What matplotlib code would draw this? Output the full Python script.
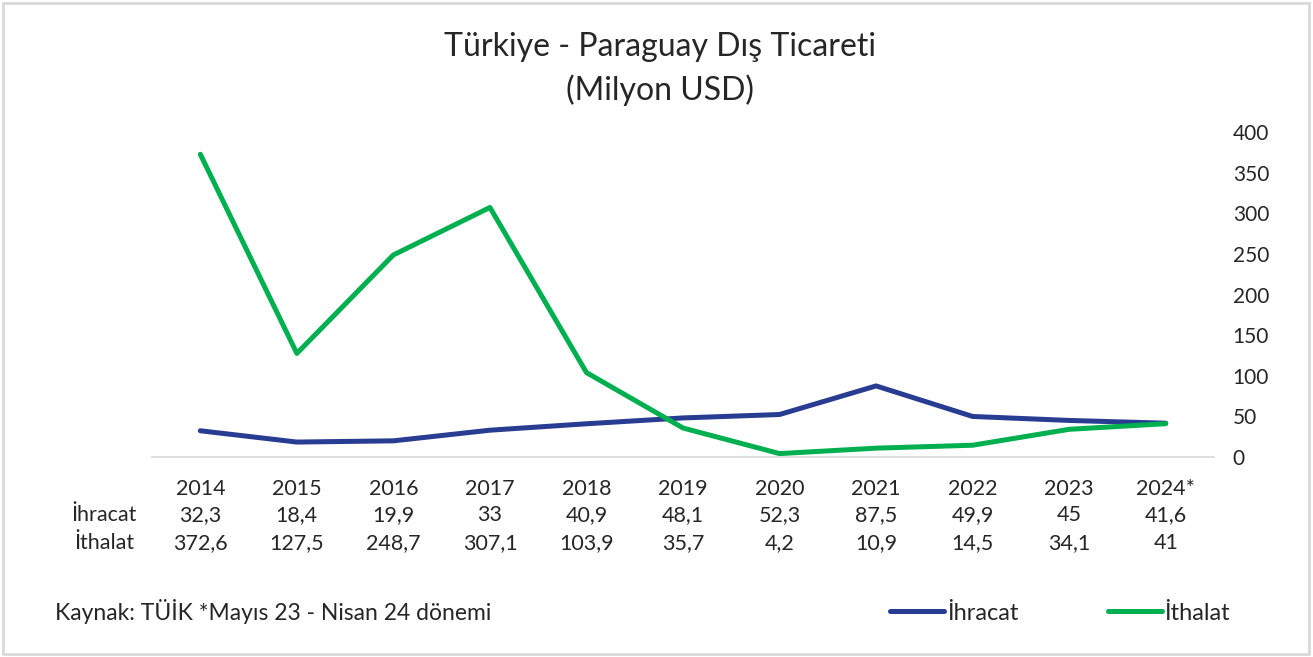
import matplotlib.pyplot as plt
from matplotlib.patches import Rectangle

# data
years = ["2014", "2015", "2016", "2017", "2018", "2019", "2020", "2021", "2022", "2023", "2024*"]
ihracat = [32.3, 18.4, 19.9, 33, 40.9, 48.1, 52.3, 87.5, 49.9, 45, 41.6]
ithalat = [372.6, 127.5, 248.7, 307.1, 103.9, 35.7, 4.2, 10.9, 14.5, 34.1, 41]

blue = "#283C92"
green = "#00B050"
txt = "#262626"

plt.rcParams['font.family'] = ['Lato', 'DejaVu Sans']

fig = plt.figure(figsize=(13.13, 6.57), dpi=100)
fig.patches.append(Rectangle((0.002, 0.004), 0.995, 0.992, transform=fig.transFigure,
                             fill=False, edgecolor="#D9D9D9", linewidth=2))

ax = fig.add_axes([0.1158, 0.3044, 0.8088, 0.4947])
x = list(range(len(years)))
ax.plot(x, ihracat, color=blue, linewidth=3.6, solid_capstyle="round", label="İhracat")
ax.plot(x, ithalat, color=green, linewidth=3.6, solid_capstyle="round", label="İthalat")
ax.set_xlim(-0.5, len(years) - 0.5)
ax.set_ylim(0, 400)
ax.set_yticks(range(0, 401, 50))
ax.yaxis.tick_right()
ax.tick_params(axis="y", length=0, pad=13.5, labelsize=15, labelcolor=txt)
ax.set_xticks([])
for s in ["top", "left", "right"]:
    ax.spines[s].set_visible(False)
ax.spines["bottom"].set_color("#D9D9D9")
ax.spines["bottom"].set_linewidth(1.2)

# data table under the chart
fs = 15.5
for i, yr in enumerate(years):
    ax.text(i, -0.098, yr, transform=ax.get_xaxis_transform(), ha="center", va="center",
            fontsize=fs, color=txt)
    ax.text(i, -0.178, f"{ihracat[i]:g}".replace(".", ","), transform=ax.get_xaxis_transform(),
            ha="center", va="center", fontsize=fs, color=txt)
    ax.text(i, -0.265, f"{ithalat[i]:g}".replace(".", ","), transform=ax.get_xaxis_transform(),
            ha="center", va="center", fontsize=fs, color=txt)
fig.text(104 / 1313, 1 - 515 / 657, "İhracat", ha="center", va="center", fontsize=fs, color=txt)
fig.text(104 / 1313, 1 - 543 / 657, "İthalat", ha="center", va="center", fontsize=fs, color=txt)

fig.text(0.503, 1 - 47 / 657, "Türkiye - Paraguay Dış Ticareti", ha="center", va="center",
         fontsize=23, color=txt)
fig.text(0.503, 1 - 90 / 657, "(Milyon USD)", ha="center", va="center", fontsize=23, color=txt)

fig.text(55 / 1313, 1 - 611 / 657, "Kaynak: TÜİK *Mayıs 23 - Nisan 24 dönemi", ha="left",
         va="center", fontsize=16.5, color=txt)

fig.legend(loc="center", bbox_to_anchor=(1060 / 1313, 1 - 613 / 657), ncol=2, frameon=False,
           fontsize=17, handlelength=2.3, handletextpad=0.1, columnspacing=3.8,
           labelcolor=txt)

plt.savefig("out.png", dpi=100)
